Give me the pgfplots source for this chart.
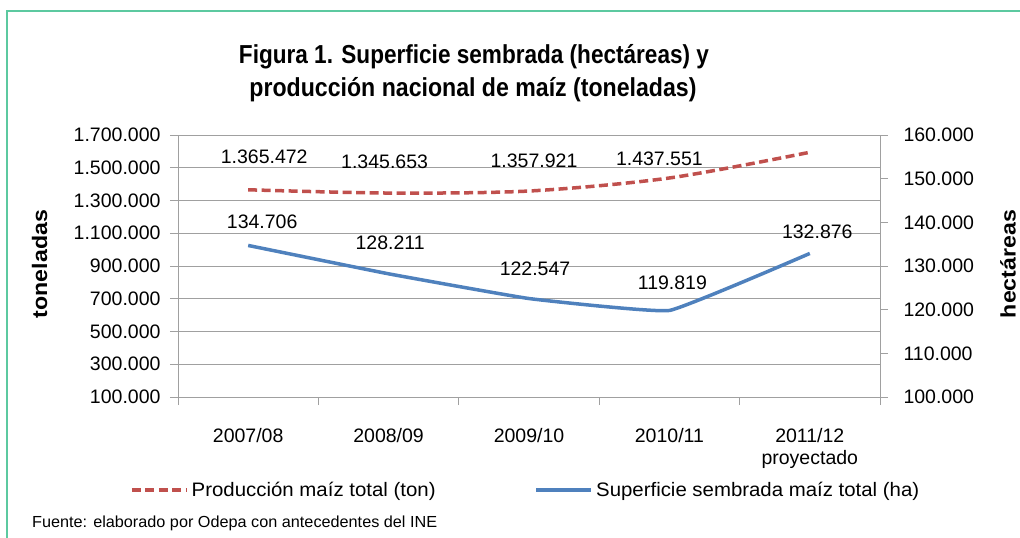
\documentclass[border=0pt]{standalone}
\usepackage{pgfplots}
\pgfplotsset{compat=1.18}
\usepackage{fontspec}
\setmainfont{Liberation Sans}
\usepackage{graphicx}
\definecolor{redl}{HTML}{C0504D}
\definecolor{bluel}{HTML}{4F81BD}
\definecolor{gridc}{HTML}{A0A0A0}
\definecolor{framec}{HTML}{5CC9A0}
\newcommand{\tf}{\fontsize{19.5}{22}\selectfont}
\begin{document}
\begin{tikzpicture}
\path[use as bounding box] (0,0) rectangle (1020pt,-538pt);
\draw[framec, line width=2.4pt] (7pt,-545pt) -- (7pt,-11pt) -- (1030pt,-11pt);
\node[anchor=base, inner sep=0pt] at (474pt,-63pt) {\resizebox{470pt}{\height}{\fontsize{26}{30}\selectfont\bfseries Figura 1. Superficie sembrada (hectáreas) y}};
\node[anchor=base, inner sep=0pt] at (473pt,-96pt) {\resizebox{447pt}{\height}{\fontsize{26}{30}\selectfont\bfseries producción nacional de maíz (toneladas)}};
\node[rotate=90, inner sep=0pt] at (39.5pt,-264pt) {\resizebox{108pt}{\height}{\fontsize{21}{24}\selectfont\bfseries toneladas}};
\node[rotate=90, inner sep=0pt] at (1008pt,-264pt) {\resizebox{108pt}{\height}{\fontsize{21}{24}\selectfont\bfseries hectáreas}};
\node[anchor=base west, inner sep=0pt] at (32pt,-527pt) {\resizebox{405pt}{\height}{\fontsize{16}{18}\selectfont Fuente: elaborado por Odepa con antecedentes del INE}};

\begin{axis}[
  at={(178pt,-397pt)}, anchor=south west,
  scale only axis, width=702pt, height=262pt,
  xmin=-0.5, xmax=4.5, ymin=100000, ymax=1700000,
  xtick={-0.5,0.5,1.5,2.5,3.5,4.5}, x tick label as interval,
  xticklabels={2007/08,2008/09,2009/10,2010/11,{2011/12\\proyectado}},
  ytick={100000,300000,500000,700000,900000,1100000,1300000,1500000,1700000},
  scaled y ticks=false,
  /pgf/number format/fixed,
  /pgf/number format/1000 sep={.},
  /pgf/number format/assume math mode=true,
  axis x line*=bottom, axis y line*=left,
  ymajorgrids, grid style={gridc, line width=0.9pt},
  axis line style={gridc, line width=0.9pt},
  tick style={gridc, line width=0.9pt},
  tick align=outside, major tick length=8pt,
  ticklabel style={font=\tf, text=black},
  xticklabel style={align=center, yshift=-20pt},
  yticklabel style={xshift=-6pt},
  legend columns=2,
  legend style={at={(axis description cs:-0.0684,-0.355)}, anchor=west,
    draw=none, fill=none, inner sep=0pt, column sep=3pt,
    nodes={inner sep=0pt, font=\tf},
    /tikz/every even column/.append style={column sep=99pt}},
  legend image code/.code={\draw[#1, line cap=butt] (0pt,0pt) -- (55pt,0pt);},
]
\addplot[redl, line width=3.5pt, dash pattern=on 9pt off 4.5pt, smooth, tension=0.5]
  coordinates {(0,1365472) (1,1345653) (2,1357921) (3,1437551) (4,1594512)};
\addlegendentry{\resizebox{244pt}{\height}{Producción maíz total (ton)}}
\addlegendimage{bluel, line width=3.5pt}
\addlegendentry{\resizebox{323pt}{\height}{Superficie sembrada maíz total (ha)}}
\node[font=\tf] at (axis cs:0,1365472) [xshift=16pt, yshift=33pt] {1.365.472};
\node[font=\tf] at (axis cs:1,1345653) [xshift=-4pt, yshift=31pt] {1.345.653};
\node[font=\tf] at (axis cs:2,1357921) [xshift=5pt, yshift=30pt] {1.357.921};
\node[font=\tf] at (axis cs:3,1437551) [xshift=-10pt, yshift=19pt] {1.437.551};
\node[font=\tf] at (axis cs:4,1594512) [xshift=4pt, yshift=27pt] {1.594.512};
\end{axis}

\begin{axis}[
  at={(178pt,-397pt)}, anchor=south west,
  scale only axis, width=702pt, height=262pt,
  xmin=-0.5, xmax=4.5, ymin=100000, ymax=160000,
  ytick={100000,110000,120000,130000,140000,150000,160000},
  scaled y ticks=false,
  /pgf/number format/fixed,
  /pgf/number format/1000 sep={.},
  /pgf/number format/assume math mode=true,
  axis x line=none, axis y line*=right,
  axis line style={gridc, line width=0.9pt},
  tick style={gridc, line width=0.9pt},
  tick align=outside, major tick length=8pt,
  ticklabel style={font=\tf, text=black},
  yticklabel style={xshift=12pt},
]
\addplot[bluel, line width=3.5pt, smooth, tension=0.18]
  coordinates {(0,134706) (1,128211) (2,122547) (3,119819) (4,132876)};
\node[font=\tf] at (axis cs:0,134706) [xshift=14pt, yshift=24pt] {134.706};
\node[font=\tf] at (axis cs:1,128211) [xshift=1.5pt, yshift=31pt] {128.211};
\node[font=\tf] at (axis cs:2,122547) [xshift=6pt, yshift=30pt] {122.547};
\node[font=\tf] at (axis cs:3,119819) [xshift=3pt, yshift=28pt] {119.819};
\node[font=\tf] at (axis cs:4,132876) [xshift=7.5pt, yshift=21.5pt] {132.876};
\end{axis}
\end{tikzpicture}
\end{document}
